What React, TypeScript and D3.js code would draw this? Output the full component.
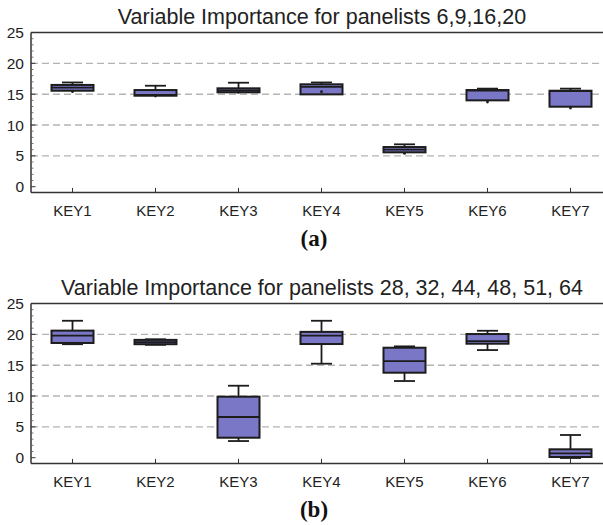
import React from "react";
import * as d3 from "d3";

const categories = ["KEY1", "KEY2", "KEY3", "KEY4", "KEY5", "KEY6", "KEY7"];
const yTicks = [0, 5, 10, 15, 20, 25];
const gridValues = [5, 10, 15, 20];

// Panel (a)
const titleA = "Variable Importance for panelists 6,9,16,20";
const whiskerHighA = [16.9, 16.37, 16.86, 16.9, 6.87, 15.9, 15.9];
const q3A = [16.5, 15.67, 15.95, 16.6, 6.43, 15.67, 15.56];
const medianA = [16.05, 14.9, 15.6, 16.2, 6.0, 15.6, 15.5];
const q1A = [15.56, 14.75, 15.3, 14.97, 5.57, 14.0, 12.97];
const whiskerLowA = [15.56, 14.75, 15.3, 14.97, 5.57, 14.0, 12.97];
const dotsA = [15.4, 14.7, 15.3, 15.4, 5.4, 13.73, 12.75];

// Panel (b)
const titleB = "Variable Importance for panelists 28, 32, 44, 48, 51, 64";
const whiskerHighB = [22.2, 19.2, 11.67, 22.2, 18.05, 20.58, 3.68];
const q3B = [20.6, 19.1, 9.89, 20.4, 17.83, 20.05, 1.36];
const medianB = [19.8, 18.75, 6.6, 19.8, 15.67, 18.9, 0.71];
const q1B = [18.6, 18.4, 3.24, 18.43, 13.78, 18.48, 0.11];
const whiskerLowB = [18.4, 18.3, 2.7, 15.24, 12.43, 17.45, -0.05];

const W = 603;
const H = 525;
const FILL = "#7a77c6";
const DARK = "#1c1c1c";

type PanelProps = {
  title: string;
  label: string;
  offset: number;
  hi: number[];
  q3: number[];
  med: number[];
  q1: number[];
  lo: number[];
  dots?: number[];
  capLow: boolean;
};

function Panel({ title, label, offset, hi, q3, med, q1, lo, dots, capLow }: PanelProps) {
  const x = d3.scaleLinear().domain([0.5, 7.5]).range([31, 612]);
  const y = d3.scaleLinear().domain([0, 25]).range([186.7 + offset, 32.5 + offset]);
  const yMin = -0.93;
  const left = x(0.5);
  const right = x(7.5);
  const top = y(25);
  const bottom = y(yMin);
  const boxW = 42;
  const capW = 21;
  const minor = d3.range(0, 26, 1).filter((v) => v % 5 !== 0);
  return (
    <g>
      <text x={322} y={24 + offset} textAnchor="middle" fontFamily="Liberation Sans, Arial, sans-serif" fontSize={21.5} fill="#222">
        {title}
      </text>
      {gridValues.map((v) => (
        <line key={"g" + v} x1={left} x2={right} y1={y(v)} y2={y(v)} stroke="#b4b4b4" strokeWidth={1.4} strokeDasharray="7,4" />
      ))}
      <line x1={left} x2={right} y1={top} y2={top} stroke="#333" strokeWidth={1.5} />
      <line x1={left} x2={right} y1={bottom} y2={bottom} stroke="#333" strokeWidth={1.5} />
      <line x1={left} x2={left} y1={top} y2={bottom} stroke="#333" strokeWidth={1.5} />
      {yTicks.map((v) => (
        <g key={"t" + v}>
          <line x1={left} x2={left + 4.5} y1={y(v)} y2={y(v)} stroke="#333" strokeWidth={1} />
          <text x={24} y={y(v)} dy="0.36em" textAnchor="end" fontFamily="Liberation Sans, Arial, sans-serif" fontSize={15.5} fill="#222">
            {v}
          </text>
        </g>
      ))}
      {minor.map((v) => (
        <line key={"m" + v} x1={left} x2={left + 2.5} y1={y(v)} y2={y(v)} stroke="#555" strokeWidth={0.8} />
      ))}
      {categories.map((c, i) => {
        const cx = x(i + 1);
        return (
          <g key={c}>
            <line x1={cx} x2={cx} y1={bottom} y2={bottom - 4.5} stroke="#333" strokeWidth={1} />
            <text x={cx} y={bottom + 24} textAnchor="middle" fontFamily="Liberation Sans, Arial, sans-serif" fontSize={15} fill="#222">
              {c}
            </text>
            <line x1={cx} x2={cx} y1={y(hi[i])} y2={y(q3[i])} stroke={DARK} strokeWidth={1.8} />
            <line x1={cx - capW / 2} x2={cx + capW / 2} y1={y(hi[i])} y2={y(hi[i])} stroke={DARK} strokeWidth={1.8} />
            <line x1={cx} x2={cx} y1={y(q1[i])} y2={y(lo[i])} stroke={DARK} strokeWidth={1.8} />
            {capLow && (
              <line x1={cx - capW / 2} x2={cx + capW / 2} y1={y(lo[i])} y2={y(lo[i])} stroke={DARK} strokeWidth={1.8} />
            )}
            <rect x={cx - boxW / 2} y={y(q3[i])} width={boxW} height={y(q1[i]) - y(q3[i])} fill={FILL} stroke={DARK} strokeWidth={2} />
            <line x1={cx - boxW / 2} x2={cx + boxW / 2} y1={y(med[i])} y2={y(med[i])} stroke={DARK} strokeWidth={1.8} />
            {dots && <circle cx={cx} cy={y(dots[i])} r={1.4} fill={DARK} />}
          </g>
        );
      })}
      <text x={314} y={246 + offset} textAnchor="middle" fontFamily="Liberation Serif, Times New Roman, serif" fontWeight="bold" fontSize={23} fill="#111">
        {label}
      </text>
    </g>
  );
}

export default function App() {
  return (
    <svg width={W} height={H} style={{ position: "absolute", left: 0, top: 0, background: "#fff" }}>
      <rect width={W} height={H} fill="#fff" />
      <Panel title={titleA} label="(a)" offset={0} hi={whiskerHighA} q3={q3A} med={medianA} q1={q1A} lo={whiskerLowA} dots={dotsA} capLow={false} />
      <Panel title={titleB} label="(b)" offset={271} hi={whiskerHighB} q3={q3B} med={medianB} q1={q1B} lo={whiskerLowB} capLow={true} />
    </svg>
  );
}
